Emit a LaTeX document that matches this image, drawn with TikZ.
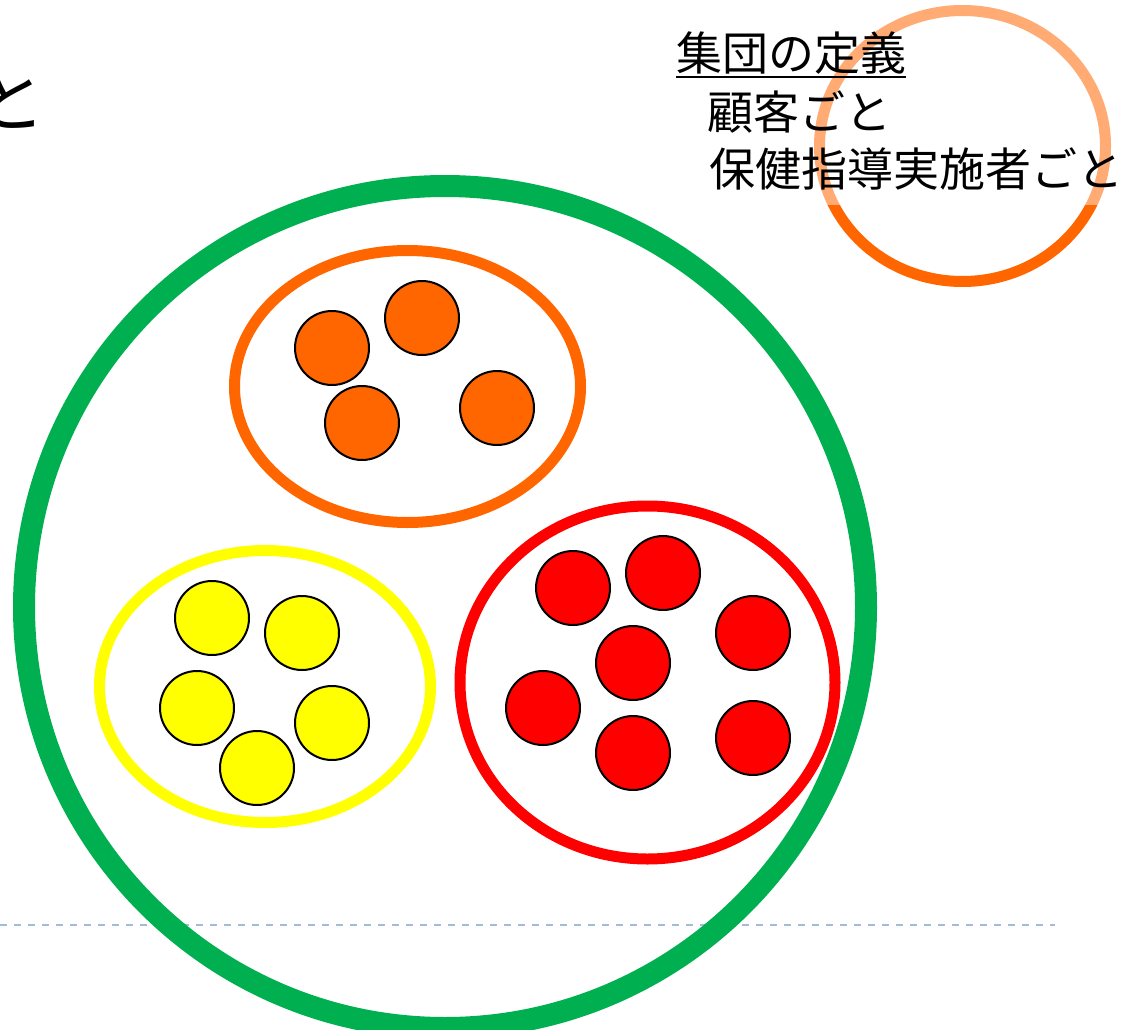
\documentclass[tikz,border=0pt]{standalone}
\usepackage{fontspec}
\newfontfamily\cjk{Noto Sans CJK JP}
\definecolor{cgreen}{HTML}{00B050}
\definecolor{corange}{HTML}{FF6600}
\definecolor{cyellow}{HTML}{FFFF00}
\definecolor{cred}{HTML}{FF0000}
\definecolor{cdash}{HTML}{A3BBD6}
\tikzset{
  member/.style={circle, draw=black, line width=2pt, minimum size=74pt, inner sep=0pt},
  group/.style={line width=11pt},
  label/.style={font=\cjk\fontsize{46}{46}\selectfont, inner sep=0pt, anchor=base west},
}
\begin{document}
\begin{tikzpicture}[x=1pt,y=-1pt]
\useasboundingbox (0,0) rectangle (1124,1030);
\fill[white] (0,0) rectangle (1124,1030);
% dashed guide line
\coordinate (dl) at (0,925);
\coordinate (dr) at (1055,925);
\draw[cdash, line width=2.5pt, dash pattern=on 7pt off 7pt] (dl) -- (dr);
% cut-off title char
\node[font=\cjk\fontsize{70}{70}\selectfont, inner sep=0pt, anchor=base east] (tt) at (46,127) {と};
% big green circle
\draw[cgreen, line width=22pt] (445,607) circle (421);
% group ellipses
\draw[group, corange] (407.5,386.5) ellipse (173 and 136);
\draw[group, cyellow] (265,686.5) ellipse (165.5 and 136);
\draw[group, cred] (647.5,682.5) ellipse (187.5 and 176.5);
% orange members
\node[member, fill=corange] (o1) at (332,348) {};
\node[member, fill=corange] (o2) at (422,318) {};
\node[member, fill=corange] (o3) at (362,423) {};
\node[member, fill=corange] (o4) at (497,408) {};
% yellow members
\node[member, fill=cyellow] (y1) at (212,618) {};
\node[member, fill=cyellow] (y2) at (302,633) {};
\node[member, fill=cyellow] (y3) at (197,708) {};
\node[member, fill=cyellow] (y4) at (332,723) {};
\node[member, fill=cyellow] (y5) at (257,768) {};
% red members
\node[member, fill=cred] (r1) at (573,588) {};
\node[member, fill=cred] (r2) at (663,573) {};
\node[member, fill=cred] (r3) at (753,633) {};
\node[member, fill=cred] (r4) at (633,663) {};
\node[member, fill=cred] (r5) at (543,708) {};
\node[member, fill=cred] (r6) at (633,753) {};
\node[member, fill=cred] (r7) at (753,738) {};
% top-right orange ring
\draw[corange, line width=11pt] (962.5,146) ellipse (143 and 135.5);
% semi-transparent text box
\fill[white, opacity=0.45] (670,0) rectangle (1124,205);
% definition text
\node[label] (t1) at (676,71) {集団の定義};
\draw[black, line width=2.5pt] ([yshift=-6pt]t1.base west) -- ([yshift=-6pt]t1.base east);
\node[label] (t2) at (707,129) {顧客ごと};
\node[label] (t3) at (709,186) {保健指導実施者ごと};
\end{tikzpicture}
\end{document}
